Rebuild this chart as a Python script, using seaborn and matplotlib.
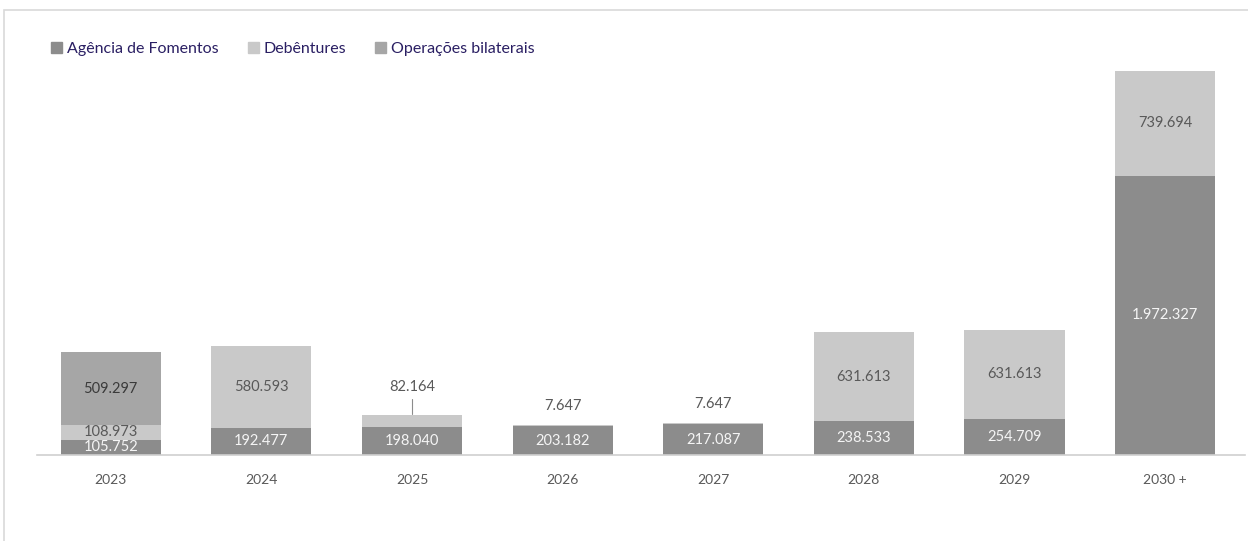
import numpy as np
import pandas as pd
import seaborn as sns
import matplotlib.pyplot as plt
import matplotlib.patches as patches

# dados (R$ mil)
anos = ["2023", "2024", "2025", "2026", "2027", "2028", "2029", "2030 +"]
agencia = [105752, 192477, 198040, 203182, 217087, 238533, 254709, 1972327]
debentures = [108973, 580593, 82164, 7647, 7647, 631613, 631613, 739694]
bilaterais = [509297, 0, 0, 0, 0, 0, 0, 0]

series = ["Agência de Fomentos", "Debêntures", "Operações bilaterais"]
cores = ["#8c8c8c", "#c9c9c9", "#a6a6a6"]
cor_txt = ["#f5f5f5", "#595959", "#3a3a3a"]

sns.set_theme(style="white")
plt.rcParams["font.family"] = ["Lato", "DejaVu Sans"]

df = pd.DataFrame({"ano": anos, "ag": agencia, "deb": debentures, "bil": bilaterais})
df["c1"] = df["ag"]
df["c2"] = df["ag"] + df["deb"]
df["c3"] = df["c2"] + df["bil"]

fig = plt.figure(figsize=(12.48, 5.41), dpi=100)
ax = fig.add_axes([0.0296, 0.159, 0.968, 0.767])

# barras empilhadas: desenha os acumulados de cima para baixo
for col, cor in zip(["c3", "c2", "c1"], cores[::-1]):
    sns.barplot(data=df, x="ano", y=col, color=cor, width=0.665,
                saturation=1, edgecolor="none", ax=ax)

ymax = df["c3"].max() * (455 - 40) / 384
ax.set_ylim(0, ymax)
ax.set_xlim(-0.49, len(anos) - 0.47)

# rótulos
fmt = lambda v: f"{v:,}".replace(",", ".")
for i, r in df.iterrows():
    segs = [(0, r["ag"]), (r["c1"], r["deb"]), (r["c2"], r["bil"])]
    for k, (base, v) in enumerate(segs):
        if v == 0:
            continue
        if v < 0.05 * ymax and k == 1 and v < r["ag"] * 0.5:
            if v > 50000:
                ax.text(i, r["c2"] + ymax * 0.052, fmt(v), ha="center", va="bottom",
                        fontsize=10.5, color="#595959")
                ax.plot([i, i], [r["c2"] + ymax * 0.004, r["c2"] + ymax * 0.04],
                        color="#8c8c8c", lw=0.8)
            else:
                ax.text(i, r["c2"] + ymax * 0.03, fmt(v), ha="center", va="bottom",
                        fontsize=10.5, color="#595959")
        else:
            ax.text(i, base + v / 2, fmt(v), ha="center", va="center",
                    fontsize=10.5, color=cor_txt[k])

ax.set_xlabel("")
ax.set_ylabel("")
ax.set_yticks([])
ax.tick_params(axis="x", length=0, pad=14, labelsize=10, labelcolor="#595959")
for s in ["top", "right", "left"]:
    ax.spines[s].set_visible(False)
ax.spines["bottom"].set_color("#d0d0d0")
ax.spines["bottom"].set_linewidth(1.2)

handles = [patches.Patch(color=c) for c in cores]
leg = ax.legend(handles, series, loc="upper left", bbox_to_anchor=(0.0, 1.03),
                ncol=3, frameon=False, fontsize=11.5, handlelength=0.7,
                handleheight=0.7, handletextpad=0.3, columnspacing=1.8)
for t in leg.get_texts():
    t.set_color("#2a1f63")

# moldura
fig.add_artist(patches.Rectangle((4 / 1248, -0.1), 1.1, 1 - 10 / 541 + 0.1,
                                 transform=fig.transFigure, fill=False,
                                 edgecolor="#d9d9d9", lw=1.2))

fig.savefig("out.png", dpi=100)
